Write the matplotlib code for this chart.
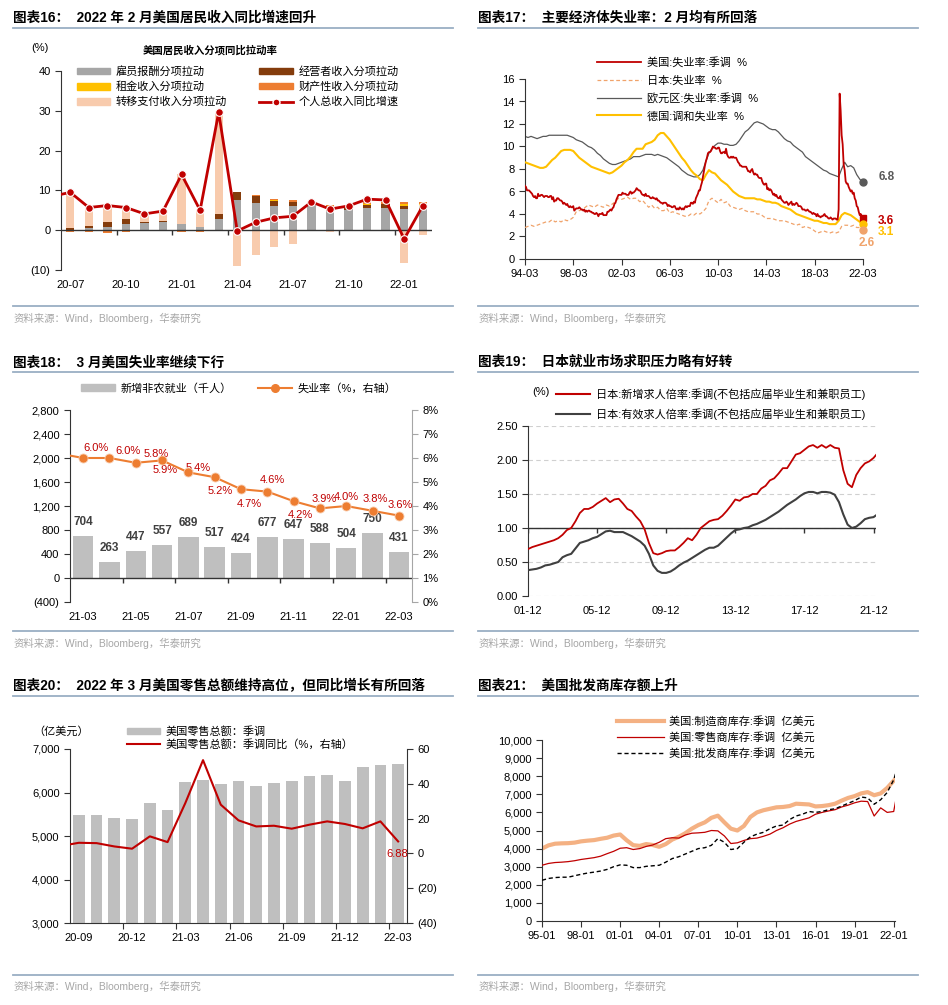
import numpy as np
import matplotlib.pyplot as plt
from matplotlib.patches import Patch
from matplotlib.lines import Line2D

plt.rcParams['font.family'] = ['Liberation Sans', 'Noto Sans CJK SC']
plt.rcParams['axes.unicode_minus'] = False
plt.rcParams['xtick.labelsize'] = 8
plt.rcParams['ytick.labelsize'] = 8
plt.rcParams['axes.linewidth'] = 0.8
plt.rcParams['xtick.major.width'] = 0.8
plt.rcParams['ytick.major.width'] = 0.8
plt.rcParams['xtick.major.size'] = 4
plt.rcParams['ytick.major.size'] = 4

# ---------------- chart 16: personal income ----------------
c16_months = ['20-07', '20-08', '20-09', '20-10', '20-11', '20-12', '21-01', '21-02', '21-03', '21-04',
              '21-05', '21-06', '21-07', '21-08', '21-09', '21-10', '21-11', '21-12', '22-01', '22-02']
c16_comp = [0.0, 0.5, 0.7, 1.5, 1.8, 2.1, 1.5, 0.7, 2.9, 7.5, 6.8, 6.1, 6.2, 6.5, 4.8, 5.2, 5.6, 5.6, 5.3, 5.2]
c16_prop = [0.5, 0.6, 1.3, 1.4, 0.3, 0.1, 0.1, 0.1, 1.2, 2.0, 1.8, 1.3, 0.8, 0.3, 0.8, 0.6, 0.8, 0.9, 0.8, 0.8]
c16_rent = [0.1, 0.0, 0.0, 0.0, 0.0, 0.0, 0.0, 0.0, 0.0, 0.1, 0.1, 0.1, 0.1, 0.1, 0.2, 0.1, 0.2, 0.2, 0.4, 0.5]
c16_asset = [-0.5, -0.5, -0.6, -0.5, -0.3, -0.2, -0.5, -0.4, -0.3, -0.1, 0.2, 0.4, 0.5, 0.2, 0.5, 0.3, 0.4, 0.4, 0.6, 0.6]
c16_transfer = [8.9, 4.4, 4.3, 2.6, 1.9, 2.6, 12.5, 4.3, 25.4, -9.0, -6.2, -4.2, -3.4, 0.1, -0.5, 0.0, 0.6, 0.4, -8.3, -1.2]
c16_total = [9.5, 5.7, 6.2, 5.7, 4.1, 4.8, 14.0, 5.0, 29.6, -0.2, 2.0, 3.1, 3.5, 7.1, 5.3, 6.1, 7.8, 7.6, -2.2, 6.1]
c16_total_prev = 8.5
c16_names = ['雇员报酬分项拉动', '经营者收入分项拉动', '租金收入分项拉动', '财产性收入分项拉动',
             '转移支付收入分项拉动', '个人总收入同比增速']

# ---------------- chart 17: unemployment rates ----------------
c17_us = [6.5, 6.4, 6.1, 6.1, 6.1, 6.0, 5.9, 5.8, 5.6, 5.5,
          5.6, 5.4, 5.4, 5.8, 5.6, 5.6, 5.7, 5.7, 5.6, 5.5, 5.6, 5.6,
          5.6, 5.5, 5.5, 5.6, 5.6, 5.3, 5.5, 5.1, 5.2, 5.2, 5.4, 5.4,
          5.3, 5.2, 5.2, 5.1, 4.9, 5.0, 4.9, 4.8, 4.9, 4.7, 4.6, 4.7,
          4.6, 4.6, 4.7, 4.3, 4.4, 4.5, 4.5, 4.5, 4.6, 4.5, 4.4, 4.4,
          4.3, 4.4, 4.2, 4.3, 4.2, 4.3, 4.3, 4.2, 4.2, 4.1, 4.1, 4.0,
          4.0, 4.1, 4.0, 3.8, 4.0, 4.0, 4.0, 4.1, 3.9, 3.9, 3.9, 3.9,
          4.2, 4.2, 4.3, 4.4, 4.3, 4.5, 4.6, 4.9, 5.0, 5.3, 5.5, 5.7,
          5.7, 5.7, 5.7, 5.9, 5.8, 5.8, 5.8, 5.7, 5.7, 5.7, 5.9, 6.0,
          5.8, 5.9, 5.9, 6.0, 6.1, 6.3, 6.2, 6.1, 6.1, 6.0, 5.8, 5.7,
          5.7, 5.6, 5.8, 5.6, 5.6, 5.6, 5.5, 5.4, 5.4, 5.5, 5.4, 5.4,
          5.3, 5.4, 5.2, 5.2, 5.1, 5.0, 5.0, 4.9, 5.0, 5.0, 5.0, 4.9,
          4.7, 4.8, 4.7, 4.7, 4.6, 4.6, 4.7, 4.7, 4.5, 4.4, 4.5, 4.4,
          4.6, 4.5, 4.4, 4.5, 4.4, 4.6, 4.7, 4.6, 4.7, 4.7, 4.7, 5.0,
          5.0, 4.9, 5.1, 5.0, 5.4, 5.6, 5.8, 6.1, 6.1, 6.5, 6.8, 7.3,
          7.8, 8.3, 8.7, 9.0, 9.4, 9.5, 9.5, 9.6, 9.8, 10.0, 9.9, 9.9,
          9.8, 9.8, 9.9, 9.9, 9.6, 9.4, 9.4, 9.5, 9.5, 9.4, 9.8, 9.3,
          9.1, 9.0, 9.0, 9.1, 9.0, 9.1, 9.0, 9.0, 9.0, 8.8, 8.6, 8.5,
          8.3, 8.3, 8.2, 8.2, 8.2, 8.2, 8.2, 8.0, 7.8, 7.8, 7.7, 7.9,
          8.0, 7.7, 7.5, 7.6, 7.5, 7.5, 7.3, 7.2, 7.2, 7.2, 6.9, 6.7,
          6.6, 6.7, 6.7, 6.2, 6.3, 6.1, 6.2, 6.1, 5.9, 5.7, 5.8, 5.6,
          5.7, 5.5, 5.4, 5.4, 5.6, 5.3, 5.2, 5.1, 5.0, 5.0, 5.1, 5.0,
          4.8, 4.9, 5.0, 5.1, 4.8, 4.9, 4.8, 4.9, 5.0, 4.9, 4.7, 4.7,
          4.7, 4.6, 4.4, 4.4, 4.4, 4.3, 4.3, 4.4, 4.3, 4.2, 4.2, 4.1,
          4.0, 4.1, 4.0, 4.0, 3.8, 4.0, 3.8, 3.8, 3.7, 3.8, 3.8, 3.9,
          4.0, 3.8, 3.8, 3.7, 3.6, 3.6, 3.7, 3.6, 3.5, 3.6, 3.6, 3.6,
          3.5, 3.5, 4.4, 14.7, 13.2, 11.0, 10.2, 8.4, 7.9, 6.9, 6.7, 6.7,
          6.4, 6.2, 6.0, 6.1, 5.8, 5.9, 5.4, 5.2, 4.7, 4.6, 4.2, 3.9,
          4.0, 3.8, 3.6]
c17_jp = [2.8, 2.9, 3.0, 2.9, 3.0, 3.1, 3.2, 3.3, 3.3, 3.5, 3.3, 3.4, 3.3, 3.5, 3.4, 3.5,
          3.7, 4.2, 4.3, 4.4, 4.6, 4.8, 4.7, 4.6, 4.8, 4.7, 4.6, 4.8, 4.7, 4.9, 5.1, 5.4,
          5.3, 5.4, 5.5, 5.3, 5.4, 5.4, 5.1, 5.2, 4.9, 4.6, 4.8, 4.5, 4.6, 4.3, 4.3, 4.5,
          4.1, 4.2, 4.1, 4.0, 3.9, 3.8, 3.8, 4.0, 3.9, 4.1, 4.0, 4.2, 4.5, 5.2, 5.4, 5.2,
          5.0, 5.3, 5.0, 5.1, 4.7, 4.6, 4.5, 4.4, 4.5, 4.3, 4.2, 4.2, 4.2, 4.0, 4.0, 3.8,
          3.6, 3.6, 3.6, 3.5, 3.4, 3.4, 3.4, 3.3, 3.2, 3.1, 3.0, 3.1, 2.8, 2.9, 2.8, 2.7,
          2.5, 2.3, 2.4, 2.5, 2.4, 2.3, 2.4, 2.3, 2.4, 2.9, 3.0, 3.0, 2.9, 3.0, 2.8, 2.8,
          2.6]
c17_eu = [10.9, 10.8, 10.9, 10.8, 10.7, 10.8, 10.9, 10.9, 11.0, 11.0, 11.0, 11.0, 11.0, 11.0, 11.0, 10.9,
          10.8, 10.6, 10.5, 10.4, 10.2, 10.0, 9.9, 9.7, 9.4, 9.2, 8.9, 8.7, 8.5, 8.4, 8.4, 8.5,
          8.6, 8.7, 8.8, 8.9, 9.1, 9.1, 9.1, 9.2, 9.3, 9.3, 9.3, 9.2, 9.3, 9.2, 9.1, 9.0,
          8.8, 8.6, 8.4, 8.2, 7.9, 7.7, 7.5, 7.4, 7.3, 7.3, 7.5, 7.9, 8.7, 9.4, 9.8, 10.1,
          10.3, 10.3, 10.2, 10.2, 10.1, 10.1, 10.2, 10.5, 10.9, 11.3, 11.5, 11.8, 12.1, 12.2, 12.1, 12.0,
          11.8, 11.6, 11.5, 11.5, 11.3, 11.0, 10.7, 10.5, 10.4, 10.1, 9.9, 9.7, 9.5, 9.1, 8.9, 8.7,
          8.5, 8.3, 8.1, 7.9, 7.8, 7.6, 7.5, 7.4, 7.3, 8.0, 8.6, 8.2, 8.3, 8.1, 7.5, 7.1,
          6.8]
c17_de = [8.6, 8.5, 8.4, 8.3, 8.2, 8.1, 8.1, 8.2, 8.5, 8.8, 9.0, 9.3, 9.6, 9.7, 9.7, 9.7,
          9.6, 9.3, 9.0, 8.8, 8.6, 8.4, 8.2, 8.1, 8.0, 7.9, 7.8, 7.7, 7.6, 7.7, 7.9, 8.1,
          8.3, 8.6, 8.8, 9.1, 9.5, 9.8, 9.8, 9.8, 10.2, 10.3, 10.4, 10.6, 11.0, 11.2, 11.2, 10.9,
          10.6, 10.2, 9.8, 9.4, 9.0, 8.7, 8.3, 7.9, 7.6, 7.4, 7.1, 7.0, 7.5, 7.9, 7.7, 7.6,
          7.3, 7.0, 6.8, 6.6, 6.3, 6.0, 5.8, 5.6, 5.5, 5.4, 5.4, 5.4, 5.4, 5.3, 5.3, 5.2,
          5.1, 5.1, 5.0, 5.0, 4.9, 4.7, 4.6, 4.5, 4.4, 4.2, 4.0, 3.9, 3.8, 3.7, 3.6, 3.5,
          3.4, 3.4, 3.3, 3.2, 3.2, 3.1, 3.1, 3.1, 3.4, 3.9, 4.1, 4.0, 3.9, 3.7, 3.5, 3.3,
          3.1]
c17_names = ['美国:失业率:季调  %', '日本:失业率  %', '欧元区:失业率:季调  %', '德国:调和失业率  %']
c17_ticklabels = ['94-03', '98-03', '02-03', '06-03', '10-03', '14-03', '18-03', '22-03']

# ---------------- chart 18: payrolls ----------------
c18_months = ['21-03', '21-04', '21-05', '21-06', '21-07', '21-08', '21-09',
              '21-10', '21-11', '21-12', '22-01', '22-02', '22-03']
c18_nfp = [704, 263, 447, 557, 689, 517, 424, 677, 647, 588, 504, 750, 431]
c18_unemp = [6.0, 6.0, 5.8, 5.9, 5.4, 5.2, 4.7, 4.6, 4.2, 3.9, 4.0, 3.8, 3.6]
c18_unemp_prev = 6.2
c18_names = ['新增非农就业（千人）', '失业率（%，右轴）']

# ---------------- chart 19: Japan job ratios ----------------
c19_new = [0.69,
           0.72, 0.74, 0.76, 0.78, 0.80, 0.82, 0.85, 0.90, 0.97, 1.00, 1.10, 1.22,
           1.28, 1.28, 1.31, 1.36, 1.40, 1.44, 1.38, 1.42, 1.43, 1.36, 1.28, 1.25,
           1.17, 1.10, 0.98, 0.78, 0.63, 0.61, 0.63, 0.66, 0.67, 0.67, 0.72, 0.78,
           0.85, 0.82, 0.90, 1.00, 1.05, 1.10, 1.12, 1.13, 1.18, 1.25, 1.33, 1.42,
           1.40, 1.45, 1.46, 1.50, 1.50, 1.58, 1.62, 1.70, 1.73, 1.80, 1.88, 1.88,
           1.98, 2.08, 2.10, 2.15, 2.20, 2.22, 2.18, 2.22, 2.18, 2.22, 2.18, 2.17,
           1.85, 1.65, 1.60, 1.78, 1.88, 1.95, 1.98, 2.03,
           2.08]
c19_active = [0.38,
              0.39, 0.40, 0.42, 0.45, 0.46, 0.48, 0.50, 0.57, 0.60, 0.62, 0.70, 0.78,
              0.80, 0.82, 0.85, 0.87, 0.91, 0.95, 0.96, 0.94, 0.94, 0.94, 0.91, 0.88,
              0.84, 0.80, 0.74, 0.62, 0.45, 0.37, 0.34, 0.34, 0.36, 0.40, 0.45, 0.49,
              0.52, 0.56, 0.60, 0.64, 0.68, 0.71, 0.71, 0.74, 0.80, 0.86, 0.92, 0.97,
              0.98, 1.00, 1.01, 1.04, 1.06, 1.09, 1.12, 1.16, 1.20, 1.24, 1.29, 1.34,
              1.38, 1.42, 1.47, 1.51, 1.53, 1.53, 1.51, 1.53, 1.53, 1.52, 1.49, 1.38,
              1.20, 1.05, 1.00, 1.02, 1.07, 1.13, 1.15, 1.16,
              1.19]
c19_names = ['日本:新增求人倍率:季调(不包括应届毕业生和兼职员工)',
             '日本:有效求人倍率:季调(不包括应届毕业生和兼职员工)']
c19_ticklabels = ['01-12', '05-12', '09-12', '13-12', '17-12', '21-12']

# ---------------- chart 20: retail sales ----------------
c20_months = ['20-09', '20-10', '20-11', '20-12', '21-01', '21-02', '21-03', '21-04', '21-05', '21-06',
              '21-07', '21-08', '21-09', '21-10', '21-11', '21-12', '22-01', '22-02', '22-03']
c20_sales = [5490, 5490, 5410, 5380, 5760, 5600, 6230, 6290, 6200, 6260,
             6160, 6220, 6270, 6390, 6400, 6260, 6580, 6630, 6660]
c20_yoy = [6.1, 5.9, 4.0, 2.7, 9.8, 6.5, 28.9, 53.6, 28.0, 19.0,
           15.5, 15.9, 14.2, 16.5, 18.4, 16.9, 14.4, 18.4, 6.88]
c20_yoy_prev = 4.3
c20_names = ['美国零售总额：季调', '美国零售总额：季调同比（%，右轴）']

# ---------------- chart 21: inventories ----------------
c21_mfg = [4000, 4180, 4270, 4290, 4300, 4330, 4400, 4440, 4470, 4540,
           4600, 4720, 4780, 4460, 4190, 4150, 4250, 4200, 4100, 4250,
           4500, 4650, 4850, 5100, 5300, 5450, 5700, 5820, 5450, 5100,
           5000, 5250, 5750, 6000, 6120, 6200, 6280, 6300, 6350, 6480,
           6460, 6440, 6330, 6350, 6400, 6480, 6650, 6800, 6900, 7050,
           7120, 6950, 7050, 7350, 7750, 7880]
c21_retail = [3080, 3180, 3230, 3250, 3280, 3330, 3400, 3450, 3500, 3580,
              3720, 3850, 4020, 4050, 3950, 4000, 4120, 4200, 4350, 4550,
              4600, 4580, 4750, 4850, 4870, 4900, 5000, 4980, 4700, 4280,
              4320, 4450, 4550, 4580, 4680, 4800, 5000, 5150, 5350, 5500,
              5600, 5700, 5900, 6000, 6080, 6150, 6300, 6400, 6530, 6620,
              6600, 5800, 6250, 6000, 6050, 6700]
c21_whole = [2250, 2350, 2400, 2420, 2420, 2500, 2580, 2650, 2700, 2760,
             2850, 3000, 3100, 3080, 2950, 2950, 3020, 3050, 3080, 3250,
             3450, 3550, 3700, 3850, 4000, 4050, 4180, 4550, 4350, 3950,
             4000, 4350, 4650, 4800, 4900, 5100, 5250, 5300, 5600, 5800,
             5900, 6050, 6000, 6050, 6150, 6200, 6350, 6500, 6650, 6850,
             6800, 6450, 6700, 7100, 7800, 8200]
c21_names = ['美国:制造商库存:季调  亿美元', '美国:零售商库存:季调  亿美元', '美国:批发商库存:季调  亿美元']
c21_ticklabels = ['95-01', '98-01', '01-01', '04-01', '07-01', '10-01', '13-01', '16-01', '19-01', '22-01']

# ---------------- layout helpers ----------------
W, H = 948, 1005
fig = plt.figure(figsize=(W / 100, H / 100), dpi=100)
RED = '#C00000'
AXC = '#333333'
BARGRAY = '#BFBFBF'
SRC = '资料来源：Wind，Bloomberg，华泰研究'


def fx(x):
    return x / W


def fy(y):
    return 1 - y / H


def add_ax(l, t, r, b):
    return fig.add_axes([l / W, 1 - b / H, (r - l) / W, (b - t) / H])


def frame(x0, x1, y_title, y_line, y_foot, y_src, title):
    fig.text(fx(x0), fy(y_title), title, fontsize=9.8, fontweight='bold', va='center', ha='left')
    fig.add_artist(Line2D([fx(x0), fx(x1)], [fy(y_line)] * 2, color='#9AAFC4', lw=1.3))
    fig.add_artist(Line2D([fx(x0), fx(x1)], [fy(y_foot)] * 2, color='#9AAFC4', lw=1.3))
    fig.text(fx(x0 + 1), fy(y_src), SRC, fontsize=7.5, color='#A6A6A6', va='center')


def style(ax, spines=('left', 'bottom')):
    for s in ax.spines:
        ax.spines[s].set_visible(s in spines)
        ax.spines[s].set_color(AXC)
    ax.tick_params(colors=AXC, labelcolor='black')


def legend(handles, labels, x, y, **kw):
    opts = dict(loc='upper left', bbox_to_anchor=(fx(x), fy(y)), bbox_transform=fig.transFigure,
                frameon=False, fontsize=8, borderpad=0, borderaxespad=0, handletextpad=0.5)
    opts.update(kw)
    fig.legend(handles, labels, **opts)


def paren(v, fmt='{:,.0f}'):
    return '(' + fmt.format(-v) + ')' if v < 0 else fmt.format(v)


# ================= chart 16 =================
frame(13, 453, 18, 28, 306, 318, '图表16：  2022 年 2 月美国居民收入同比增速回升')
ax = add_ax(61, 71, 432, 270)
style(ax, ('left',))
n16 = len(c16_months)
x16 = np.arange(n16)
cols16 = ['#A6A6A6', '#843C0C', '#FFC000', '#ED7D31', '#F8CBAD']
pos = np.zeros(n16)
neg = np.zeros(n16)
for vals, col in zip([c16_comp, c16_prop, c16_rent, c16_asset, c16_transfer], cols16):
    v = np.array(vals)
    ax.bar(x16, v, 0.45, bottom=np.where(v >= 0, pos, neg), color=col, zorder=2)
    pos = pos + np.clip(v, 0, None)
    neg = neg + np.clip(v, None, 0)
ax.axhline(0, color=AXC, lw=1.0, zorder=3)
ax.plot(np.arange(2.5, 18, 3), np.zeros(6), ls='none', marker=3, ms=3.5, color=AXC, zorder=3)
ax.plot(np.arange(-1, n16), [c16_total_prev] + c16_total, color=RED, lw=2, marker='o', ms=5.5,
        mfc=RED, mec='white', mew=0.8, zorder=4)
ax.set_xlim(-0.5, n16 - 0.5)
ax.set_ylim(-10, 40)
ax.set_yticks(range(-10, 41, 10), [paren(v) for v in range(-10, 41, 10)])
ax.set_xticks(range(0, n16, 3), [c16_months[i] for i in range(0, n16, 3)])
ax.tick_params(axis='x', length=0, pad=7)
fig.text(fx(40), fy(48), '(%)', fontsize=8, ha='center', va='center')
fig.text(fx(210), fy(50), '美国居民收入分项同比拉动率', fontsize=7.5, fontweight='bold', ha='center', va='center')
h16 = [Patch(color=c) for c in cols16] + [Line2D([], [], color=RED, lw=2, marker='o', ms=5, mec='white')]
order = [0, 2, 4, 1, 3, 5]
legend([h16[i] for i in order], [c16_names[i] for i in order], 77, 66, ncol=2, labelspacing=0.42,
       handlelength=3.0, handleheight=0.55, columnspacing=2.9)

# ================= chart 17 =================
frame(478, 918, 18, 28, 306, 318, '图表17：  主要经济体失业率：2 月均有所回落')
ax = add_ax(525, 79, 863, 259)
style(ax)
x0 = 1994 + 2 / 12
x_us = x0 + np.arange(len(c17_us)) / 12
x_q = x0 + np.arange(len(c17_jp)) * 0.25
ax.plot(x_q, c17_eu, color='#595959', lw=0.9, zorder=2)
ax.plot(x_q, c17_de, color='#FFC000', lw=1.5, zorder=3)
ax.plot(x_q, c17_jp, color='#F0A36B', lw=0.9, ls=(0, (3, 2)), zorder=3)
ax.plot(x_us, c17_us, color=RED, lw=1.3, zorder=4)
xe = x_us[-1]
ends = [(c17_eu[-1], '#595959', 'o', (24, 6)), (c17_us[-1], RED, 's', (23, -3)),
        (c17_de[-1], '#FFC000', 'o', (23, -8)), (c17_jp[-1], '#F0A36B', 'o', (4, -13))]
for v, c, m, off in ends:
    ax.plot([xe], [v], marker=m, color=c, ms=5, clip_on=False, zorder=5)
    ax.annotate(f'{v:.1f}', (xe, v), xytext=off, textcoords='offset pixels', ha='center', va='center',
                fontsize=8.5, fontweight='bold', color=c, annotation_clip=False)
ax.set_xlim(x0, x0 + 28.02)
ax.set_ylim(0, 16)
ax.set_yticks(range(0, 17, 2))
ax.set_xticks([x0 + 4 * k for k in range(8)], c17_ticklabels)
ax.tick_params(axis='x', pad=3)
h17 = [Line2D([], [], color=RED, lw=1.3), Line2D([], [], color='#F0A36B', lw=0.9, ls=(0, (3, 2))),
       Line2D([], [], color='#595959', lw=0.9), Line2D([], [], color='#FFC000', lw=1.5)]
legend(h17, c17_names, 597, 57, labelspacing=0.65, handlelength=4.0)

# ================= chart 18 =================
frame(13, 453, 362, 372, 631, 643, '图表18：  3 月美国失业率继续下行')
ax = add_ax(70, 410, 412, 602)
style(ax, ('left',))
n18 = len(c18_months)
x18 = np.arange(n18)
ax.bar(x18, c18_nfp, 0.78, color=BARGRAY, zorder=2)
for i, v in enumerate(c18_nfp):
    ax.annotate(str(v), (i, v), xytext=(0, 14), textcoords='offset pixels', ha='center', va='center',
                fontsize=8.5, fontweight='bold', color='#404040')
ax.axhline(0, color=AXC, lw=1.0, zorder=3)
ax.plot(np.arange(1.5, 12, 2), np.zeros(6), ls='none', marker=3, ms=3.5, color=AXC, zorder=3)
ax.set_xlim(-0.5, n18 - 0.5)
ax.set_ylim(-400, 2800)
ax.set_yticks(range(-400, 2801, 400), [paren(v) for v in range(-400, 2801, 400)])
ax.set_xticks(range(0, n18, 2), [c18_months[i] for i in range(0, n18, 2)])
ax.tick_params(axis='x', length=0, pad=7)
ax2 = ax.twinx()
style(ax2, ('right',))
ax2.spines['right'].set_color('#A6A6A6')
ax2.tick_params(axis='y', colors='#A6A6A6', labelcolor='black')
ax2.plot(np.arange(-1, n18), [c18_unemp_prev] + c18_unemp, color='#ED7D31', lw=1.5, marker='o', ms=6.5,
         mec='#F8CBAD', mew=0.6, zorder=4)
off18 = [(13, 10), (19, 7), (20, 9), (3, -10), (10, 4), (6, -14), (8, -15),
         (5, 12), (7, -14), (4, 9), (0, 9), (3, 12), (1, 11)]
for i, v in enumerate(c18_unemp):
    ax2.annotate(f'{v:.1f}%', (i, v), xytext=off18[i], textcoords='offset pixels', ha='center', va='center',
                 fontsize=8, color=RED, annotation_clip=False)
ax2.set_ylim(0, 8)
ax2.set_yticks(range(0, 9), [f'{v}%' for v in range(0, 9)])
ax2.set_xlim(-0.5, n18 - 0.5)
h18 = [Patch(color=BARGRAY), Line2D([], [], color='#ED7D31', lw=1.5, marker='o', ms=5.5)]
legend(h18, c18_names, 81, 383, ncol=2, handlelength=3.1, handleheight=0.55, columnspacing=2.3)

# ================= chart 19 =================
frame(478, 918, 362, 372, 631, 643, '图表19：  日本就业市场求职压力略有好转')
ax = add_ax(528, 426, 876, 596)
style(ax, ('left',))
x19 = np.append(2001 + 11 / 12 + 0.25 * np.arange(len(c19_new) - 1), 2022 + 1 / 12)
ax.yaxis.grid(True, ls=(0, (4, 3)), color='#D0D0D0', lw=0.8)
ax.set_axisbelow(True)
ax.axhline(1.0, color=AXC, lw=1.0, zorder=2)
t19 = [2001 + 11 / 12 + 4 * k for k in range(6)]
ax.plot(t19, np.ones(6), ls='none', marker=3, ms=3.5, color=AXC, zorder=2)
ax.plot(x19, c19_active, color='#404040', lw=1.5, zorder=3)
ax.plot(x19, c19_new, color=RED, lw=1.3, zorder=4)
ax.set_xlim(2001 + 11 / 12, 2022.06)
ax.set_ylim(0, 2.5)
ax.set_yticks(np.arange(0, 2.51, 0.5), [f'{v:.2f}' for v in np.arange(0, 2.51, 0.5)])
ax.set_xticks(t19, c19_ticklabels)
ax.tick_params(axis='x', length=0, pad=7)
fig.text(fx(541), fy(392), '(%)', fontsize=8, ha='center', va='center')
h19 = [Line2D([], [], color=RED, lw=1.5), Line2D([], [], color='#404040', lw=1.5)]
legend(h19, c19_names, 556, 388, labelspacing=0.75, handlelength=3.1)

# ================= chart 20 =================
frame(13, 453, 686, 696, 975, 986, '图表20：  2022 年 3 月美国零售总额维持高位，但同比增长有所回落')
ax = add_ax(70, 749, 407, 923)
style(ax)
n20 = len(c20_months)
ax.bar(np.arange(n20), c20_sales, 0.66, color=BARGRAY, zorder=2)
ax.set_xlim(-0.5, n20 - 0.5)
ax.set_ylim(3000, 7000)
ax.set_yticks(range(3000, 7001, 1000), [f'{v:,}' for v in range(3000, 7001, 1000)])
ax.set_xticks(np.arange(2.5, n20 - 1, 3), [''] * 6)
ax.set_xticks(range(0, n20, 3), [c20_months[i] for i in range(0, n20, 3)], minor=True)
ax.tick_params(axis='x', which='minor', length=0, pad=7)
ax2 = ax.twinx()
style(ax2, ('right',))
ax2.plot(np.arange(-1, n20), [c20_yoy_prev] + c20_yoy, color=RED, lw=1.5, zorder=4)
ax2.annotate(f'{c20_yoy[-1]:.2f}', (n20 - 1, c20_yoy[-1]), xytext=(-1, -13), textcoords='offset pixels',
             ha='center', va='center', fontsize=8, color=RED, annotation_clip=False)
ax2.set_ylim(-40, 60)
ax2.set_yticks(range(-40, 61, 20), [paren(v) for v in range(-40, 61, 20)])
ax2.set_xlim(-0.5, n20 - 0.5)
fig.text(fx(33), fy(731), '（亿美元）', fontsize=8, va='center')
h20 = [Patch(color=BARGRAY), Line2D([], [], color=RED, lw=1.5)]
legend(h20, c20_names, 127, 726, labelspacing=0.18, handlelength=3.0, handleheight=0.55)

# ================= chart 21 =================
frame(478, 918, 686, 696, 975, 986, '图表21：  美国批发商库存额上升')
ax = add_ax(542, 740, 895, 921)
style(ax)
x21 = np.append(np.arange(1995, 2022.01, 0.5), 2022 + 2 / 12)
ax.plot(x21, c21_mfg, color='#F4B183', lw=3, zorder=2)
ax.plot(x21, c21_retail, color=RED, lw=0.9, zorder=3)
ax.plot(x21, c21_whole, color='black', lw=1.0, ls=(0, (3, 2)), zorder=4)
ax.set_xlim(1995, 2022.1)
ax.set_ylim(0, 10000)
ax.set_yticks(range(0, 10001, 1000), [f'{v:,}' for v in range(0, 10001, 1000)])
ax.set_xticks([1995 + 3 * k for k in range(10)], c21_ticklabels)
ax.tick_params(axis='x', pad=3)
h21 = [Line2D([], [], color='#F4B183', lw=3), Line2D([], [], color=RED, lw=0.9),
       Line2D([], [], color='black', lw=1.0, ls=(0, (3, 2)))]
legend(h21, c21_names, 617, 716, labelspacing=0.45, handlelength=4.2)

fig.savefig('out.png', dpi=100, facecolor='white')
